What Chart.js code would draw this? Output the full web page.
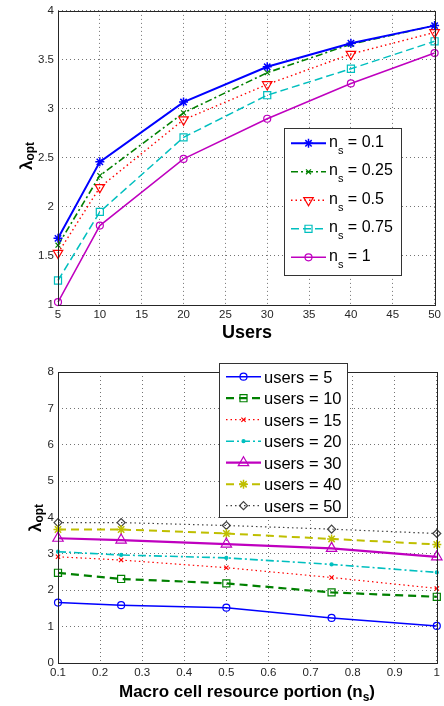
<!DOCTYPE html>
<html>
<head>
<meta charset="utf-8">
<script src="https://cdn.jsdelivr.net/npm/chart.js@4.4.0/dist/chart.umd.min.js"></script>
<style>
  html, body { margin: 0; padding: 0; background: #fff; }
  #wrap { position: relative; width: 444px; height: 706px; }
  canvas { position: absolute; left: 0; }
</style>
</head>
<body>
<div id="wrap">
  <canvas id="topChart" width="444" height="340" style="top:0"></canvas>
  <canvas id="bottomChart" width="444" height="366" style="top:340px"></canvas>
</div>
<script>
// top panel: lambda_opt vs users, one line per n_s
const usersX      = [5, 10, 20, 30, 40, 50];
const usersTicks  = [5, 10, 15, 20, 25, 30, 35, 40, 45, 50];
const topYTicks   = [1, 1.5, 2, 2.5, 3, 3.5, 4];
const nsLabels    = ['0.1', '0.25', '0.5', '0.75', '1'];
const ns01  = [1.68, 2.46, 3.07, 3.43, 3.67, 3.85];
const ns025 = [1.61, 2.32, 2.96, 3.37, 3.66, 3.85];
const ns05  = [1.53, 2.20, 2.89, 3.25, 3.56, 3.78];
const ns075 = [1.25, 1.95, 2.71, 3.14, 3.41, 3.69];
const ns1   = [1.03, 1.81, 2.49, 2.90, 3.26, 3.57];

// bottom panel: lambda_opt vs n_s, one line per user count
const nsX          = [0.1, 0.25, 0.5, 0.75, 1];
const portionTicks = [0.1, 0.2, 0.3, 0.4, 0.5, 0.6, 0.7, 0.8, 0.9, 1];
const botYTicks    = [0, 1, 2, 3, 4, 5, 6, 7, 8];
const userLabels   = ['5', '10', '15', '20', '30', '40', '50'];
const users5  = [1.66, 1.59, 1.52, 1.24, 1.02];
const users10 = [2.48, 2.31, 2.19, 1.94, 1.82];
const users15 = [2.92, 2.83, 2.62, 2.35, 2.05];
const users20 = [3.06, 2.97, 2.89, 2.71, 2.49];
const users30 = [3.43, 3.38, 3.27, 3.15, 2.92];
const users40 = [3.67, 3.67, 3.56, 3.41, 3.26];
const users50 = [3.86, 3.86, 3.78, 3.68, 3.56];

const FONT = '"Liberation Sans", Arial, Helvetica, sans-serif';

const pts = (xs, ys) => xs.map((x, i) => ({ x, y: ys[i] }));

function line(xs, ys, label, s) {
  return {
    label,
    data: pts(xs, ys),
    borderColor: s.color,
    borderWidth: s.width,
    borderDash: s.dash || [],
    pointStyle: s.marker,
    pointRotation: s.rot || 0,
    pointRadius: s.r,
    pointBorderWidth: s.mw || 1.2,
    pointBorderColor: s.color,
    pointBackgroundColor: s.filled ? s.color : 'rgba(0,0,0,0)',
    fill: false,
    tension: 0,
    clip: false
  };
}

// draw pieces of text (main + subscript) left to right
function drawParts(ctx, parts, x, y) {
  let cx = x;
  for (const [t, font, dy] of parts) {
    ctx.font = font;
    ctx.fillText(t, cx, y + dy);
    cx += ctx.measureText(t).width;
  }
}
function partsWidth(ctx, parts) {
  let w = 0;
  for (const [t, font] of parts) { ctx.font = font; w += ctx.measureText(t).width; }
  return w;
}

function decoPlugin(cfg) {
  return {
    id: 'deco',
    afterDatasetsDraw(chart) {
      const { ctx, chartArea: a } = chart;
      ctx.save();
      ctx.setLineDash([]);
      ctx.strokeStyle = '#262626';
      ctx.lineWidth = 1;
      ctx.strokeRect(Math.round(a.left) + 0.5, Math.round(a.top) + 0.5,
        Math.round(a.right - a.left), Math.round(a.bottom - a.top));

      // legend
      const lg = cfg.legend;
      ctx.fillStyle = '#fff';
      ctx.fillRect(lg.box[0], lg.box[1], lg.box[2], lg.box[3]);
      ctx.strokeStyle = '#333';
      ctx.lineWidth = 1;
      ctx.strokeRect(lg.box[0] + 0.5, lg.box[1] + 0.5, lg.box[2], lg.box[3]);
      chart.data.datasets.forEach((ds, i) => {
        const y = lg.y0 + i * lg.dy;
        ctx.save();
        ctx.strokeStyle = ds.borderColor;
        ctx.lineWidth = ds.borderWidth;
        ctx.setLineDash(ds.borderDash);
        ctx.beginPath();
        ctx.moveTo(lg.x1, y);
        ctx.lineTo(lg.x2, y);
        ctx.stroke();
        ctx.setLineDash([]);
        ctx.strokeStyle = ds.pointBorderColor;
        ctx.fillStyle = ds.pointBackgroundColor;
        ctx.lineWidth = ds.pointBorderWidth;
        Chart.helpers.drawPoint(ctx, {
          pointStyle: ds.pointStyle, rotation: ds.pointRotation,
          radius: ds.pointRadius, borderWidth: ds.pointBorderWidth
        }, (lg.x1 + lg.x2) / 2, y);
        ctx.restore();
        ctx.fillStyle = '#000';
        ctx.textBaseline = 'alphabetic';
        drawParts(ctx, lg.text(ds, i), lg.tx, y + lg.base);
      });

      // axis titles
      ctx.fillStyle = '#000';
      ctx.textBaseline = 'alphabetic';
      const xt = cfg.xTitle;
      drawParts(ctx, xt.parts, xt.cx - partsWidth(ctx, xt.parts) / 2, xt.y);
      const yt = cfg.yTitle;
      ctx.save();
      ctx.translate(yt.x, yt.cy);
      ctx.rotate(-Math.PI / 2);
      drawParts(ctx, yt.parts, -partsWidth(ctx, yt.parts) / 2, 0);
      ctx.restore();
      ctx.restore();
    }
  };
}

function axis(min, max, ticks, isX, fitSize) {
  return {
    type: 'linear',
    min, max,
    afterBuildTicks: (s) => { s.ticks = ticks.map(v => ({ value: v })); },
    afterFit: (s) => { if (isX) s.height = fitSize; else s.width = fitSize; },
    grid: { color: 'rgba(0,0,0,0.55)', lineWidth: 1, drawTicks: false },
    border: { display: false, dash: [1, 3] },
    ticks: {
      autoSkip: false, maxRotation: 0, padding: isX ? 3 : 4,
      color: '#262626', font: { family: FONT, size: 11.5 },
      callback: (v) => String(v)
    }
  };
}

const bold = (px) => 'bold ' + px + 'px ' + FONT;
const norm = (px) => px + 'px ' + FONT;

new Chart(document.getElementById('topChart'), {
  type: 'line',
  data: {
    datasets: [
      line(usersX, ns01,  nsLabels[0], { color: '#0000ff', width: 2,   marker: 'star',     r: 4.5, mw: 1.5 }),
      line(usersX, ns025, nsLabels[1], { color: '#008000', width: 1.6, dash: [7, 3, 2, 3], marker: 'crossRot', r: 3.5 }),
      line(usersX, ns05,  nsLabels[2], { color: '#ff0000', width: 1.4, dash: [1.5, 3], marker: 'triangle', rot: 180, r: 5.5 }),
      line(usersX, ns075, nsLabels[3], { color: '#00bfbf', width: 1.5, dash: [8, 4], marker: 'rect', r: 5 }),
      line(usersX, ns1,   nsLabels[4], { color: '#bf00bf', width: 1.5, marker: 'circle', r: 3.5 })
    ]
  },
  options: {
    responsive: false,
    animation: false,
    layout: { padding: { left: 0, right: 7, top: 7, bottom: 0 } },
    plugins: { legend: { display: false }, tooltip: { enabled: false } },
    scales: {
      x: axis(5, 50, usersTicks, true, 35),
      y: axis(1, 4, topYTicks, false, 58)
    }
  },
  plugins: [decoPlugin({
    legend: {
      box: [284, 128, 117, 147], x1: 291, x2: 326, tx: 329, y0: 143.3, dy: 28.5, base: 3.5,
      text: (ds) => [['n', norm(16), 0], ['s', norm(11), 7], [' = ' + ds.label, norm(16), 0]]
    },
    xTitle: { parts: [['Users', bold(18), 0]], cx: 247, y: 338 },
    yTitle: { parts: [['λ', bold(17), 0], ['opt', bold(12), 2]], x: 32, cy: 156 }
  })]
});

new Chart(document.getElementById('bottomChart'), {
  type: 'line',
  data: {
    datasets: [
      line(nsX, users5,  userLabels[0], { color: '#0000ff', width: 1.5, marker: 'circle', r: 3.5 }),
      line(nsX, users10, userLabels[1], { color: '#008000', width: 2.2, dash: [8, 5], marker: 'rect', r: 5 }),
      line(nsX, users15, userLabels[2], { color: '#ff0000', width: 1.2, dash: [1.5, 3], marker: 'crossRot', r: 3 }),
      line(nsX, users20, userLabels[3], { color: '#00bfbf', width: 1.6, dash: [8, 3, 2, 3], marker: 'circle', r: 1.5, filled: true }),
      line(nsX, users30, userLabels[4], { color: '#bf00bf', width: 2.2, marker: 'triangle', r: 6 }),
      line(nsX, users40, userLabels[5], { color: '#bfbf00', width: 2, dash: [8, 5], marker: 'star', r: 4.5, mw: 1.5 }),
      line(nsX, users50, userLabels[6], { color: '#404040', width: 1.2, dash: [1.5, 3], marker: 'rectRot', r: 4 })
    ]
  },
  options: {
    responsive: false,
    animation: false,
    layout: { padding: { left: 0, right: 7, top: 32, bottom: 0 } },
    plugins: { legend: { display: false }, tooltip: { enabled: false } },
    scales: {
      x: axis(0.1, 1, portionTicks, true, 43),
      y: axis(0, 8, botYTicks, false, 58)
    }
  },
  plugins: [decoPlugin({
    legend: {
      box: [219, 23, 128, 154], x1: 226, x2: 261, tx: 264, y0: 36.7, dy: 21.5, base: 6,
      text: (ds) => [['users = ' + ds.label, norm(16.5), 0]]
    },
    xTitle: {
      parts: [['Macro cell resource portion (n', bold(17), 0], ['s', bold(12), 4], [')', bold(17), 0]],
      cx: 247, y: 357
    },
    yTitle: { parts: [['λ', bold(17), 0], ['opt', bold(12), 2]], x: 41, cy: 178 }
  })]
});
</script>
</body>
</html>
